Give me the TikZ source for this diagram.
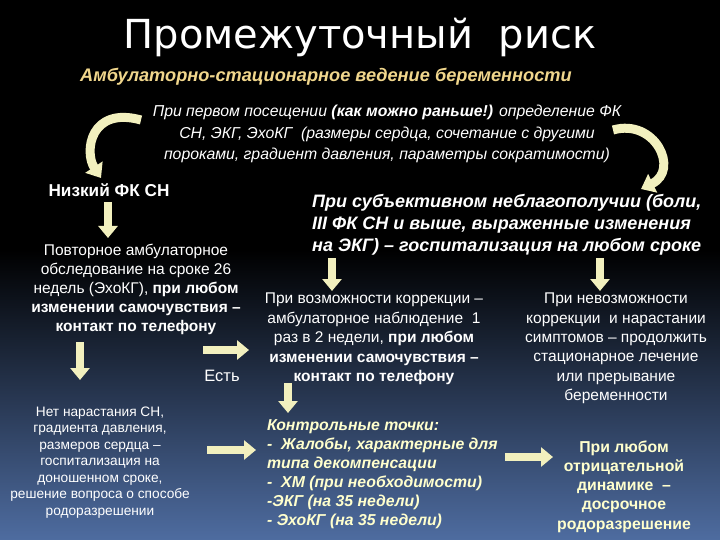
\documentclass[tikz,border=0pt]{standalone}
\usepackage{fontspec}
\setmainfont{Liberation Sans}
\newfontfamily\titlefont{DejaVu Sans}
\usetikzlibrary{arrows.meta}
\definecolor{arrc}{RGB}{242,240,190}
\definecolor{subc}{RGB}{240,214,140}
\definecolor{yelc}{RGB}{255,255,205}
\definecolor{botc}{RGB}{78,108,160}
\newcommand\fsz[2]{\fontsize{#1}{#2}\selectfont}
\begin{document}
\begin{tikzpicture}[x=1pt,y=-1pt,
  txt/.style={text=white,inner sep=0pt,align=center},
  barrow/.style={draw=arrc,line width=8pt,-{Triangle[width=19pt,length=12pt]}},
  carrow/.style={draw=arrc,line width=9pt,-{Triangle[width=20pt,length=13pt]}}]
\useasboundingbox (0,0) rectangle (720,540);
\fill[black] (0,0) rectangle (720,540);
\shade[top color=black,bottom color=botc] (0,250) rectangle (720,540);

\node[txt,font=\titlefont\fsz{40}{40}] (title) at (360,37) {Промежуточный\ \ риск};
\node[txt,text=subc,font=\bfseries\itshape\fsz{18.2}{20}] (sub) at (326,77) {Амбулаторно-стационарное ведение беременности};
\node[txt,font=\itshape\fsz{15.8}{21.5}] (top) at (387,134) {При первом посещении \textbf{(как можно раньше!)} определение ФК\\СН, ЭКГ, ЭхоКГ\ \ (размеры сердца, сочетание с другими\\пороками, градиент давления, параметры сократимости)};

\node[txt,font=\bfseries\fsz{17.2}{20}] (low) at (109,190) {Низкий ФК СН};
\node[txt,font=\fsz{15.5}{18.8}] (left1) at (136,289.5) {Повторное амбулаторное\\обследование на сроке 26\\недель (ЭхоКГ), \textbf{при любом}\\\textbf{изменении самочувствия –}\\\textbf{контакт по телефону}};
\node[txt,font=\fsz{16.5}{20}] (est) at (222,376) {Есть};

\node[txt,align=left,anchor=west,font=\bfseries\itshape\fsz{18}{22}] (mid) at (312,225) {При субъективном неблагополучии (боли,\\III ФК СН и выше, выраженные изменения\\на ЭКГ) – госпитализация на любом сроке};

\node[txt,font=\fsz{15.5}{19.5}] (midl) at (374,339) {При возможности коррекции –\\амбулаторное наблюдение\ \ 1\\раз в 2 недели, \textbf{при любом}\\\textbf{изменении самочувствия –}\\\textbf{контакт по телефону}};
\node[txt,font=\fsz{15.5}{19.4}] (midr) at (616,348.5) {При невозможности\\коррекции\ \ и нарастании\\симптомов – продолжить\\стационарное лечение\\или прерывание\\беременности};

\node[txt,font=\fsz{13.7}{16.5}] (botl) at (100,462.5) {Нет нарастания СН,\\градиента давления,\\размеров сердца –\\госпитализация на\\доношенном сроке,\\решение вопроса о способе\\родоразрешении};
\node[txt,text=yelc,align=left,anchor=west,font=\bfseries\itshape\fsz{15.8}{19}] (ctrl) at (267,474.5) {Контрольные точки:\\-\ \ Жалобы, характерные для\\типа декомпенсации\\-\ \ ХМ (при необходимости)\\-ЭКГ (на 35 недели)\\- ЭхоКГ (на 35 недели)};
\node[txt,text=yelc,font=\bfseries\fsz{15.8}{19.3}] (botr) at (624,486.5) {При любом\\отрицательной\\динамике\ \ –\\досрочное\\родоразрешение};

% curved arrows
\coordinate (c1s) at (141,120);
\coordinate (c1e) at (101,178);
\draw[carrow] (c1s) .. controls (90,106) and (84,152) .. (c1e);
\coordinate (c2s) at (613,130);
\coordinate (c2e) at (641,189);
\draw[carrow] (c2s) .. controls (655,118) and (680,170) .. (c2e);

% straight arrows
\coordinate (s1) at (108,202); \coordinate (e1) at (108,238);
\draw[barrow] (s1) -- (e1);
\coordinate (s2) at (80,342); \coordinate (e2) at (80,380);
\draw[barrow] (s2) -- (e2);
\coordinate (s3) at (203,350); \coordinate (e3) at (249,350);
\draw[barrow] (s3) -- (e3);
\coordinate (s4) at (332,258); \coordinate (e4) at (332,291);
\draw[barrow] (s4) -- (e4);
\coordinate (s5) at (600,258); \coordinate (e5) at (600,291);
\draw[barrow] (s5) -- (e5);
\coordinate (s6) at (288,383); \coordinate (e6) at (288,413);
\draw[barrow] (s6) -- (e6);
\coordinate (s7) at (207,450); \coordinate (e7) at (256,450);
\draw[barrow] (s7) -- (e7);
\coordinate (s8) at (505,457); \coordinate (e8) at (553,457);
\draw[barrow] (s8) -- (e8);
\end{tikzpicture}
\end{document}
